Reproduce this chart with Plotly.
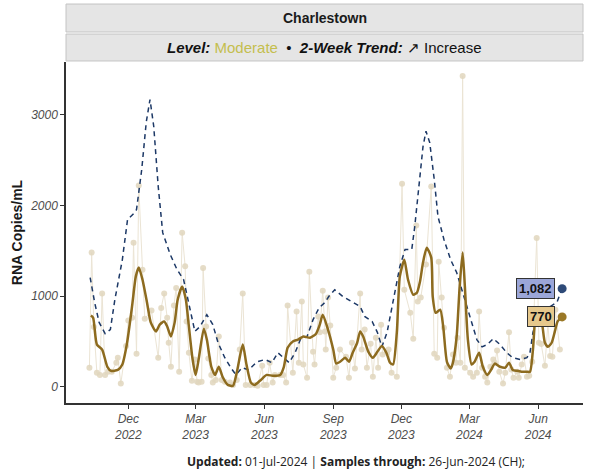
import plotly.graph_objects as go

# ---------------- data ----------------
sample_dates = [
    "2022-10-10", "2022-10-13", "2022-10-16", "2022-10-20", "2022-10-24", "2022-10-27", "2022-10-31",
    "2022-11-04", "2022-11-09", "2022-11-15", "2022-11-17", "2022-11-21", "2022-11-28", "2022-12-01",
    "2022-12-06", "2022-12-08", "2022-12-12", "2022-12-15", "2022-12-20", "2022-12-23", "2023-01-01",
    "2023-01-10", "2023-01-14", "2023-01-18", "2023-01-22", "2023-01-24", "2023-01-27", "2023-01-31",
    "2023-02-03", "2023-02-07", "2023-02-11", "2023-02-15", "2023-02-17", "2023-02-20", "2023-02-24",
    "2023-02-28", "2023-03-03", "2023-03-05", "2023-03-09", "2023-03-11", "2023-03-15", "2023-03-18",
    "2023-03-22", "2023-03-24", "2023-03-28", "2023-04-01", "2023-04-05", "2023-04-09", "2023-04-16",
    "2023-04-20", "2023-04-25", "2023-04-29", "2023-05-03", "2023-05-07", "2023-05-13", "2023-05-19",
    "2023-05-23", "2023-05-29", "2023-05-31", "2023-06-04", "2023-06-08", "2023-06-12", "2023-06-15",
    "2023-06-22", "2023-06-26", "2023-06-30", "2023-07-02", "2023-07-09", "2023-07-14", "2023-07-17",
    "2023-07-21", "2023-07-23", "2023-07-28", "2023-07-31", "2023-08-05", "2023-08-07", "2023-08-12",
    "2023-08-14", "2023-08-18", "2023-08-21", "2023-08-22", "2023-08-25", "2023-08-28", "2023-09-01",
    "2023-09-05", "2023-09-10", "2023-09-18", "2023-09-22", "2023-09-26", "2023-09-30", "2023-10-07",
    "2023-10-09", "2023-10-13", "2023-10-16", "2023-10-21", "2023-10-24", "2023-10-28", "2023-10-31",
    "2023-11-04", "2023-11-06", "2023-11-12", "2023-11-14", "2023-11-18", "2023-11-25", "2023-12-02",
    "2023-12-05", "2023-12-13", "2023-12-17", "2023-12-21", "2023-12-23", "2023-12-27", "2024-01-03",
    "2024-01-10", "2024-01-14", "2024-01-18", "2024-01-20", "2024-01-24", "2024-01-27", "2024-01-31",
    "2024-02-04", "2024-02-08", "2024-02-12", "2024-02-14", "2024-02-18", "2024-02-21", "2024-02-24",
    "2024-03-02", "2024-03-06", "2024-03-11", "2024-03-14", "2024-03-18", "2024-03-22", "2024-03-25",
    "2024-03-29", "2024-04-02", "2024-04-04", "2024-04-07", "2024-04-10", "2024-04-15", "2024-04-18",
    "2024-04-23", "2024-04-26", "2024-04-29", "2024-05-04", "2024-05-06", "2024-05-10", "2024-05-13",
    "2024-05-17", "2024-05-20", "2024-05-24", "2024-05-30", "2024-06-02", "2024-06-05", "2024-06-10",
    "2024-06-14", "2024-06-17", "2024-06-20", "2024-06-24", "2024-06-30",
]
sample_values = [
    210, 1480, 660, 155, 130, 1030, 130,
    165, 165, 265, 320, 35, 450, 730,
    760, 1590, 365, 2220, 1290, 750, 840,
    320, 870, 1030, 760, 485, 220, 895,
    1090, 165, 1700, 1330, 720, 375, 65,
    300, 55, 45, 55, 1310, 665, 310,
    130, 45, 75, 555, 75, 55, 45,
    20, 75, 410, 1030, 20, 20, 20,
    10, 230, 20, 20, 265, 45, 130,
    130, 130, 45, 895, 155, 830, 265,
    940, 245, 100, 1270, 385, 245, 775,
    600, 1060, 610, 410, 985, 675, 100,
    210, 410, 330, 100, 485, 200, 1030,
    410, 630, 210, 475, 110, 540, 210,
    685, 355, 375, 410, 155, 110, 2240,
    1070, 815, 530, 1780, 940, 985, 1350,
    2210, 365, 320, 1380, 985, 650, 210,
    110, 355, 265, 540, 265, 3430, 210,
    155, 110, 155, 830, 210, 110, 45,
    220, 300, 265, 400, 165, 35, 155,
    600, 190, 100, 165, 100, 245, 330,
    110, 120, 275, 1640, 485, 470, 230,
    700, 340, 330, 850, 410,
]

smooth_dates = [
    "2022-10-12", "2022-10-15", "2022-10-20", "2022-10-27", "2022-11-03", "2022-11-08", "2022-11-17",
    "2022-11-23", "2022-11-29", "2022-12-06", "2022-12-11", "2022-12-15", "2022-12-20", "2022-12-26",
    "2022-12-31", "2023-01-07", "2023-01-12", "2023-01-18", "2023-01-22", "2023-01-27", "2023-02-01",
    "2023-02-05", "2023-02-11", "2023-02-16", "2023-02-20", "2023-02-25", "2023-03-01", "2023-03-05",
    "2023-03-12", "2023-03-16", "2023-03-22", "2023-03-27", "2023-04-01", "2023-04-06", "2023-04-13",
    "2023-04-20", "2023-04-25", "2023-05-03", "2023-05-08", "2023-05-14", "2023-05-19", "2023-05-26",
    "2023-06-04", "2023-06-12", "2023-06-22", "2023-06-27", "2023-07-02", "2023-07-09", "2023-07-16",
    "2023-07-23", "2023-08-01", "2023-08-09", "2023-08-14", "2023-08-18", "2023-08-25", "2023-09-01",
    "2023-09-05", "2023-09-10", "2023-09-17", "2023-09-22", "2023-09-27", "2023-10-03", "2023-10-07",
    "2023-10-11", "2023-10-18", "2023-10-24", "2023-10-30", "2023-11-05", "2023-11-11", "2023-11-16",
    "2023-11-20", "2023-11-25", "2023-11-29", "2023-12-05", "2023-12-10", "2023-12-17", "2023-12-22",
    "2023-12-26", "2023-12-30", "2024-01-04", "2024-01-10", "2024-01-12", "2024-01-16", "2024-01-22",
    "2024-01-26", "2024-01-31", "2024-02-05", "2024-02-08", "2024-02-13", "2024-02-17", "2024-02-21",
    "2024-02-24", "2024-02-28", "2024-03-04", "2024-03-08", "2024-03-14", "2024-03-19", "2024-03-25",
    "2024-03-30", "2024-04-04", "2024-04-11", "2024-04-18", "2024-04-23", "2024-04-28", "2024-05-04",
    "2024-05-10", "2024-05-17", "2024-05-21", "2024-05-25", "2024-05-29", "2024-06-01", "2024-06-06",
    "2024-06-10", "2024-06-14", "2024-06-19", "2024-06-23", "2024-06-27", "2024-07-03",
]
smooth_values = [
    785, 760, 465, 410, 220, 175, 185,
    245, 465, 885, 1215, 1315, 1180, 930,
    710, 610, 685, 720, 665, 555, 710,
    960, 1105, 960, 665, 300, 130, 300,
    640, 520, 220, 130, 220, 110, 20,
    10, 155, 465, 245, 45, 20, 65,
    130, 120, 130, 220, 430, 500, 520,
    555, 540, 585, 685, 795, 630, 410,
    255, 275, 320, 275, 375, 485, 610,
    555, 385, 320, 385, 450, 375, 265,
    245, 600, 1215, 1400, 1180, 1015, 1040,
    1160, 1370, 1535, 1425, 995, 815, 850,
    665, 275, 200, 265, 555, 1105, 1480,
    1105, 520, 245, 275, 375, 220, 130,
    185, 255, 220, 210, 265, 185, 175,
    165, 165, 165, 410, 815, 850, 710,
    485, 440, 485, 600, 720, 770,
]

trend_dates = [
    "2022-10-11", "2022-10-17", "2022-10-23", "2022-10-31", "2022-11-07", "2022-11-13", "2022-11-23",
    "2022-11-30", "2022-12-08", "2022-12-12", "2022-12-19", "2022-12-25", "2022-12-30", "2023-01-04",
    "2023-01-10", "2023-01-16", "2023-01-26", "2023-02-04", "2023-02-13", "2023-02-20", "2023-02-28",
    "2023-03-07", "2023-03-16", "2023-03-24", "2023-03-31", "2023-04-09", "2023-04-17", "2023-04-24",
    "2023-05-02", "2023-05-11", "2023-05-22", "2023-06-02", "2023-06-11", "2023-06-19", "2023-06-27",
    "2023-07-04", "2023-07-12", "2023-07-19", "2023-07-28", "2023-08-05", "2023-08-13", "2023-08-21",
    "2023-08-26", "2023-09-03", "2023-09-14", "2023-09-26", "2023-10-07", "2023-10-13", "2023-10-23",
    "2023-10-30", "2023-11-05", "2023-11-12", "2023-11-20", "2023-11-29", "2023-12-06", "2023-12-15",
    "2023-12-19", "2023-12-26", "2023-12-30", "2024-01-03", "2024-01-08", "2024-01-14", "2024-01-19",
    "2024-01-27", "2024-02-05", "2024-02-13", "2024-02-21", "2024-03-02", "2024-03-11", "2024-03-18",
    "2024-03-25", "2024-04-02", "2024-04-11", "2024-04-20", "2024-04-28", "2024-05-08", "2024-05-17",
    "2024-05-21", "2024-05-25", "2024-06-03", "2024-06-17", "2024-06-26", "2024-07-01", "2024-07-03",
]
trend_values = [
    1205, 930, 710, 585, 630, 960, 1400,
    1845, 1910, 1955, 2400, 2920, 3170, 2875,
    2210, 1700, 1460, 1295, 1180, 905, 610,
    665, 795, 685, 485, 320, 210, 130,
    210, 185, 275, 300, 265, 375, 320,
    265, 375, 520, 555, 740, 870, 930,
    995, 1070, 995, 940, 885, 775, 720,
    600, 440, 600, 930, 1325, 1515, 1515,
    1770, 2320, 2650, 2820, 2695, 2290, 1880,
    1625, 1400, 1260, 1040, 740, 520, 440,
    465, 530, 465, 375, 320, 300, 320,
    375, 600, 830, 885, 930, 1040, 1082,
]

x_tick_vals = ["2022-12-01", "2023-03-01", "2023-06-01", "2023-09-01",
               "2023-12-01", "2024-03-01", "2024-06-01"]
x_tick_text = ["Dec<br>2022", "Mar<br>2023", "Jun<br>2023", "Sep<br>2023",
               "Dec<br>2023", "Mar<br>2024", "Jun<br>2024"]
y_tick_vals = [0, 1000, 2000, 3000]

site_name = "Charlestown"
level_text = "Moderate"
trend_text = "Increase"
updated = "01-Jul-2024"
samples_through = "26-Jun-2024 (CH);"

# ---------------- style ----------------
GOLD = "#8d6b1f"
NAVY = "#1c3866"
SAMPLE = "#e0d6bd"
FONT = "Liberation Sans, Arial, sans-serif"

fig = go.Figure()

fig.add_trace(go.Scatter(
    x=sample_dates, y=sample_values, mode="lines+markers",
    line=dict(color="#ebe4d4", width=1),
    marker=dict(color=SAMPLE, size=6, opacity=0.85),
    hoverinfo="skip", showlegend=False,
))
fig.add_trace(go.Scatter(
    x=trend_dates, y=trend_values, mode="lines",
    line=dict(color=NAVY, width=1.5, dash="5px,4px"),
    showlegend=False,
))
fig.add_trace(go.Scatter(
    x=smooth_dates, y=smooth_values, mode="lines",
    line=dict(color=GOLD, width=2.5, shape="spline", smoothing=0.6),
    showlegend=False,
))
# end markers
fig.add_trace(go.Scatter(
    x=[trend_dates[-1]], y=[trend_values[-1]], mode="markers",
    marker=dict(color="#2e4a78", size=9), showlegend=False,
))
fig.add_trace(go.Scatter(
    x=[smooth_dates[-1]], y=[smooth_values[-1]], mode="markers",
    marker=dict(color="#9a7826", size=9), showlegend=False,
))

annotations = [
    dict(x=trend_dates[-1], y=trend_values[-1], xref="x", yref="y",
         text=f"<b>{trend_values[-1]:,}</b>", showarrow=False,
         xanchor="right", yanchor="middle", xshift=-7,
         bgcolor="#9ba6d8", bordercolor="#333333", borderwidth=1, borderpad=2,
         font=dict(family=FONT, size=13, color="#111111")),
    dict(x=smooth_dates[-1], y=smooth_values[-1], xref="x", yref="y",
         text=f"<b>{smooth_values[-1]:,}</b>", showarrow=False,
         xanchor="right", yanchor="middle", xshift=-7,
         bgcolor="#e6c88c", bordercolor="#333333", borderwidth=1, borderpad=2,
         font=dict(family=FONT, size=13, color="#111111")),
    dict(x=0.5, y=1.129, xref="paper", yref="paper", text=f"<b>{site_name}</b>",
         showarrow=False, xanchor="center", yanchor="middle",
         font=dict(family=FONT, size=14, color="#1a1a1a")),
    dict(x=0.5, y=1.043, xref="paper", yref="paper",
         text=(f"<b><i>Level:</i></b> <span style='color:#c4be4e'>{level_text}</span>"
               f"  •  <b><i>2-Week Trend:</i></b> ↗ {trend_text}"),
         showarrow=False, xanchor="center", yanchor="middle",
         font=dict(family=FONT, size=15, color="#111111")),
    dict(x=0.56, y=-0.171, xref="paper", yref="paper",
         text=f"<b>Updated:</b> {updated} | <b>Samples through:</b> {samples_through}",
         showarrow=False, xanchor="center", yanchor="middle",
         font=dict(family="Open Sans, sans-serif", size=12, color="#222222")),
]

shapes = [
    dict(type="rect", xref="paper", yref="paper", x0=0.0, x1=1.0, y0=1.088, y1=1.170,
         fillcolor="#e5e5e5", line=dict(color="#c4c4c4", width=1), layer="below"),
    dict(type="rect", xref="paper", yref="paper", x0=0.0, x1=1.0, y0=1.003, y1=1.082,
         fillcolor="#e5e5e5", line=dict(color="#c4c4c4", width=1), layer="below"),
]

fig.update_layout(
    width=590, height=469,
    margin=dict(l=66, r=7, t=62, b=66, autoexpand=False),
    paper_bgcolor="white", plot_bgcolor="white",
    annotations=annotations, shapes=shapes,
    showlegend=False,
    font=dict(family=FONT),
)
fig.update_xaxes(
    range=["2022-09-08 17:00", "2024-07-30 22:00"],
    tickvals=x_tick_vals, ticktext=x_tick_text,
    tickfont=dict(family="Liberation Sans, Arial", size=12, color="#4d4d4d", style="italic"),
    showgrid=False, zeroline=False, automargin=False,
    showline=True, linecolor="#333333", linewidth=1.5,
    ticks="outside", ticklen=4, tickcolor="#333333",
)
fig.update_yaxes(
    range=[-180, 3584],
    tickvals=y_tick_vals,
    tickfont=dict(family="Liberation Sans, Arial", size=12, color="#4d4d4d", style="italic"),
    title=dict(text="<b>RNA Copies/mL</b>", font=dict(family=FONT, size=14, color="#1a1a1a"), standoff=4),
    showgrid=False, zeroline=False, automargin=False,
    showline=True, linecolor="#333333", linewidth=1.5,
    ticks="outside", ticklen=4, tickcolor="#333333",
)

fig.write_html(
    "out.html",
    config={"displayModeBar": False},
    post_script="document.body.style.margin='0';document.body.style.padding='0';",
)
